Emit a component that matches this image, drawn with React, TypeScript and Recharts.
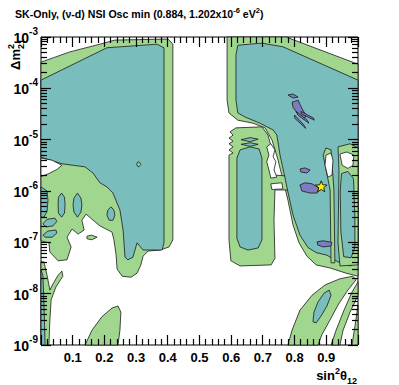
import React from 'react';
import { ScatterChart, Scatter, XAxis, YAxis, ReferenceArea } from 'recharts';

/* contour vertices: [sin^2 theta12, log10(dm2_21 / eV^2)] */
type Pt = [number, number];

const greenLeft: Pt[] = [
  [0, -3.49], [0.091, -3.29], [0.186, -3.14], [0.233, -3.06], [0.401, -3.04], [0.416, -3.14],
  [0.416, -6.95], [0.404, -7.09], [0.375, -7.15], [0.338, -7.17], [0.322, -7.27], [0.315, -7.44],
  [0.303, -7.6], [0.284, -7.68], [0.256, -7.66], [0.24, -7.52], [0.237, -7.25], [0.23, -6.95],
  [0.224, -6.8], [0.186, -6.68], [0.161, -6.55], [0.142, -6.45], [0.129, -6.57], [0.136, -6.76],
  [0.117, -6.84], [0.098, -6.74], [0.082, -6.9], [0.095, -7.09], [0.082, -7.34], [0.054, -7.36],
  [0.028, -7.19], [0.025, -7.01], [0, -6.97],
];
const tealLeft: Pt[] = [
  [0, -3.84], [0.208, -3.21], [0.366, -3.14], [0.388, -3.21], [0.388, -7.01], [0.382, -7.15],
  [0.322, -7.15], [0.303, -7.01], [0.29, -7.29], [0.274, -7.34], [0.265, -7.29], [0.259, -6.76],
  [0.249, -6.37], [0.227, -6.04], [0.208, -5.92], [0.186, -5.84], [0.164, -5.65], [0.139, -5.53],
  [0.066, -5.47], [0, -5.34],
];
const whiteWedge: Pt[] = [[0, -5.36], [0.035, -5.4], [0.066, -5.5], [0.05, -5.58], [0.025, -5.66], [0, -5.72]];
const tealLobeA: Pt[] = [[0, -5.92], [0.019, -6.0], [0.022, -6.18], [0.019, -6.4], [0.009, -6.51], [0, -6.51]];
const tealLobeB: Pt[] = [[0.065, -6.04], [0.074, -6.12], [0.076, -6.27], [0.074, -6.43], [0.065, -6.51], [0.055, -6.43], [0.054, -6.27], [0.055, -6.12]];
const tealLobeC: Pt[] = [[0.115, -6.04], [0.126, -6.14], [0.129, -6.27], [0.126, -6.41], [0.115, -6.51], [0.104, -6.41], [0.101, -6.27], [0.104, -6.14]];
const tealLobeD: Pt[] = [[0.006, -6.64], [0.019, -6.55], [0.044, -6.53], [0.05, -6.59], [0.038, -6.68], [0.016, -6.7]];
const tealLobeE: Pt[] = [[0.006, -6.86], [0.022, -6.78], [0.047, -6.76], [0.05, -6.82], [0.035, -6.9], [0.013, -6.9]];
const tealLobeF: Pt[] = [[0.221, -6.31], [0.23, -6.37], [0.233, -6.47], [0.227, -6.57], [0.215, -6.57], [0.208, -6.47], [0.211, -6.37]];
const greenIsland: Pt[] = [[0.145, -6.88], [0.16, -6.86], [0.177, -6.9], [0.16, -6.95], [0.145, -6.93]];
const greenDot: Pt[] = [[0.303, -5.45], [0.309, -5.43], [0.315, -5.48], [0.309, -5.53], [0.303, -5.51]];
const greenStrip: Pt[] = [
  [0, -7.38], [0.009, -7.38], [0.019, -7.64], [0.028, -7.93], [0.038, -7.81], [0.054, -7.64],
  [0.066, -7.56], [0.069, -7.66], [0.047, -7.87], [0.032, -8.12], [0.028, -8.51], [0.025, -9], [0, -9],
];
const tealStrip: Pt[] = [[0, -7.54], [0.006, -7.64], [0.009, -8.12], [0.013, -9], [0, -9]];
const greenBlob: Pt[] = [[0.139, -9], [0.161, -8.71], [0.192, -8.45], [0.224, -8.28], [0.243, -8.24], [0.252, -8.36], [0.249, -8.71], [0.243, -9]];

const greenRight: Pt[] = [
  [0.587, -3], [0.773, -3], [1, -3.53], [1, -7.66], [0.962, -7.6], [0.912, -7.5], [0.868, -7.44],
  [0.839, -7.27], [0.814, -7.01], [0.795, -6.66], [0.779, -6.18], [0.767, -5.88], [0.748, -5.4],
  [0.729, -5.01], [0.707, -4.77], [0.669, -4.68], [0.621, -4.62], [0.593, -4.48], [0.587, -4.23],
];
const greenColumn: Pt[] = [
  [0.615, -4.77], [0.697, -4.75], [0.716, -4.91], [0.729, -5.2], [0.735, -5.69], [0.785, -5.71],
  [0.792, -5.98], [0.738, -5.98], [0.735, -6.57], [0.738, -7.31], [0.726, -7.44], [0.628, -7.46],
  [0.599, -7.36], [0.593, -6.95], [0.593, -5.4], [0.593, -5.3], [0.606, -5.26], [0.593, -5.2],
  [0.606, -5.14], [0.593, -5.08], [0.606, -5.03], [0.593, -4.97], [0.606, -4.91], [0.596, -4.85],
];
const tealRight: Pt[] = [
  [0.621, -3.16], [0.697, -3.12], [0.763, -3.19], [1, -3.84], [1, -7.38], [0.975, -7.46],
  [0.937, -7.38], [0.902, -7.25], [0.868, -7.2], [0.842, -7.1], [0.817, -6.86], [0.795, -6.47],
  [0.779, -6.02], [0.763, -5.55], [0.754, -5.3], [0.744, -4.91], [0.732, -4.81], [0.691, -4.68],
  [0.644, -4.56], [0.621, -4.48], [0.615, -4.23], [0.615, -3.35],
];
const tealColumn: Pt[] = [
  [0.628, -5.2], [0.659, -5.14], [0.688, -5.18], [0.697, -5.36], [0.697, -6.95], [0.685, -7.11],
  [0.653, -7.15], [0.628, -7.09], [0.618, -6.92], [0.618, -5.36],
];
const tealBarA: Pt[] = [[0.631, -5.0], [0.66, -4.96], [0.685, -4.99], [0.66, -5.04]];
const tealBarB: Pt[] = [[0.631, -5.09], [0.66, -5.06], [0.685, -5.09], [0.66, -5.13]];
const whiteComb: Pt[] = [
  [0.712, -5.14], [0.725, -5.08], [0.738, -5.2], [0.732, -5.33], [0.741, -5.43], [0.735, -5.59],
  [0.744, -5.73], [0.725, -5.75], [0.719, -5.59], [0.712, -5.43], [0.719, -5.3],
];
const whiteSlot: Pt[] = [[0.725, -5.86], [0.76, -5.84], [0.763, -5.96], [0.728, -5.97]];
const greenLaneA: Pt[] = [[0.899, -5.16], [0.915, -5.2], [0.924, -5.98], [0.927, -7.4], [0.915, -7.4], [0.912, -5.98], [0.89, -5.3]];
const greenLaneB: Pt[] = [[0.937, -5.14], [0.975, -5.08], [1, -5.16], [1, -7.44], [0.943, -7.46], [0.937, -7.0], [0.94, -5.6]];
const tealLaneB: Pt[] = [[0.948, -5.66], [0.968, -5.62], [0.986, -5.76], [0.99, -6.5], [0.99, -7.1], [0.978, -7.3], [0.955, -7.28], [0.946, -6.8], [0.944, -6.0]];
const whiteHole1: Pt[] = [[0.899, -5.3], [0.915, -5.26], [0.921, -5.4], [0.918, -5.69], [0.905, -5.73], [0.896, -5.5]];
const whiteHole2: Pt[] = [[0.943, -5.28], [0.965, -5.24], [0.987, -5.3], [0.984, -5.5], [0.968, -5.56], [0.95, -5.5]];

const purpleBest: Pt[] = [[0.817, -5.88], [0.833, -5.84], [0.855, -5.86], [0.877, -5.94], [0.871, -6.04], [0.849, -6.04], [0.823, -6.0]];
const purpleMid: Pt[] = [[0.817, -5.57], [0.833, -5.55], [0.849, -5.59], [0.839, -5.65], [0.82, -5.63]];
const purpleTop: Pt[] = [[0.779, -4.13], [0.795, -4.11], [0.811, -4.17], [0.795, -4.19]];
const purpleFeather: Pt[] = [[0.792, -4.27], [0.811, -4.23], [0.823, -4.39], [0.836, -4.53], [0.83, -4.6], [0.808, -4.48], [0.795, -4.37]];
const purpleStreak1: Pt[] = [[0.805, -4.45], [0.84, -4.62], [0.845, -4.68], [0.81, -4.52]];
const purpleStreak2: Pt[] = [[0.8, -4.52], [0.83, -4.72], [0.835, -4.78], [0.8, -4.58]];
const purpleStreak3: Pt[] = [[0.82, -4.45], [0.86, -4.58], [0.862, -4.62], [0.822, -4.5]];
const purpleLow: Pt[] = [[0.871, -6.99], [0.89, -6.97], [0.918, -7.0], [0.915, -7.07], [0.89, -7.09], [0.873, -7.05]];

const greenBand1: Pt[] = [
  [0.779, -9], [0.792, -8.71], [0.817, -8.32], [0.855, -8.03], [0.896, -7.83], [0.943, -7.71],
  [0.984, -7.66], [0.994, -7.73], [0.968, -7.93], [0.937, -8.22], [0.912, -8.51], [0.886, -8.8], [0.874, -9],
];
const tealBand1: Pt[] = [[0.858, -8.55], [0.861, -8.36], [0.874, -8.16], [0.893, -7.99], [0.909, -7.93], [0.915, -8.03], [0.902, -8.24], [0.883, -8.44], [0.868, -8.57]];
const greenBand2: Pt[] = [[0.915, -9], [0.931, -8.71], [0.956, -8.32], [0.981, -7.97], [1, -7.77], [1, -8.03], [0.975, -8.36], [0.953, -8.71], [0.943, -9]];
const greenBand3: Pt[] = [[0.981, -9], [0.991, -8.61], [1, -8.22], [1, -9]];

const bestFit = [{ x: 0.884, y: Math.log10(1.202e-6) }];

const xLabels = [0.1, 0.2, 0.3, 0.4, 0.5, 0.6, 0.7, 0.8, 0.9];
const xMajor = [0, 0.1, 0.2, 0.3, 0.4, 0.5, 0.6, 0.7, 0.8, 0.9, 1];
const xMinorSteps = [0.02, 0.04, 0.06, 0.08];
const yDecades = [-9, -8, -7, -6, -5, -4, -3];
const yMinorMult = [2, 3, 4, 5, 6, 7, 8, 9];

const GREEN = '#a1d68f';
const TEAL = '#7abdbd';
const PURPLE = '#7e7bbf';
const WHITE = '#ffffff';
const FONT = '"Liberation Sans", Arial, Helvetica, sans-serif';

// chart box
const W = 399, H = 385;
const M_TOP = 37, M_RIGHT = 41, X_AXIS_H = 40, Y_AXIS_W = 41;
const PLOT_TOP = M_TOP, PLOT_BOTTOM = H - X_AXIS_H, PLOT_LEFT = Y_AXIS_W, PLOT_RIGHT = W - M_RIGHT;

const layers: { pts: Pt[]; fill: string }[] = [
  { pts: greenLeft, fill: GREEN },
  { pts: tealLeft, fill: TEAL },
  { pts: whiteWedge, fill: WHITE },
  { pts: tealLobeA, fill: TEAL },
  { pts: tealLobeB, fill: TEAL },
  { pts: tealLobeC, fill: TEAL },
  { pts: tealLobeD, fill: TEAL },
  { pts: tealLobeE, fill: TEAL },
  { pts: tealLobeF, fill: TEAL },
  { pts: greenIsland, fill: GREEN },
  { pts: greenDot, fill: GREEN },
  { pts: greenStrip, fill: GREEN },
  { pts: tealStrip, fill: TEAL },
  { pts: greenBlob, fill: GREEN },
  { pts: greenRight, fill: GREEN },
  { pts: greenColumn, fill: GREEN },
  { pts: tealRight, fill: TEAL },
  { pts: tealColumn, fill: TEAL },
  { pts: tealBarA, fill: TEAL },
  { pts: tealBarB, fill: TEAL },
  { pts: whiteComb, fill: WHITE },
  { pts: whiteSlot, fill: WHITE },
  { pts: greenLaneA, fill: GREEN },
  { pts: greenLaneB, fill: GREEN },
  { pts: tealLaneB, fill: TEAL },
  { pts: whiteHole1, fill: WHITE },
  { pts: whiteHole2, fill: WHITE },
  { pts: purpleBest, fill: PURPLE },
  { pts: purpleMid, fill: PURPLE },
  { pts: purpleTop, fill: PURPLE },
  { pts: purpleFeather, fill: PURPLE },
  { pts: purpleStreak1, fill: PURPLE },
  { pts: purpleStreak2, fill: PURPLE },
  { pts: purpleStreak3, fill: PURPLE },
  { pts: purpleLow, fill: PURPLE },
  { pts: greenBand1, fill: GREEN },
  { pts: tealBand1, fill: TEAL },
  { pts: greenBand2, fill: GREEN },
  { pts: greenBand3, fill: GREEN },
];

const toData = (pts: Pt[]) => pts.map(([x, y]) => ({ x, y }));
const noDot = () => <g />;

const polygon = (fill: string) => (p: any) => {
  const pts = (p.points || []) as { x: number; y: number }[];
  const d = 'M' + pts.map((q) => `${q.x},${q.y}`).join('L') + 'Z';
  return <path d={d} fill={fill} stroke="#1a1a1a" strokeWidth={0.8} strokeLinejoin="round" />;
};

const Star = (p: any) => {
  const { cx, cy } = p;
  const r1 = 6, r2 = 2.6;
  const pts: string[] = [];
  for (let i = 0; i < 10; i++) {
    const r = i % 2 === 0 ? r1 : r2;
    const a = -Math.PI / 2 + (i * Math.PI) / 5;
    pts.push(`${cx + r * Math.cos(a)},${cy + r * Math.sin(a)}`);
  }
  return <polygon points={pts.join(' ')} fill="#ffee00" stroke="#000" strokeWidth={0.8} />;
};

const near = (a: number, b: number) => Math.abs(a - b) < 1e-6;
const isXLabel = (v: number) => xLabels.some((l) => near(l, v));
const isXMajor = (v: number) => xMajor.some((l) => near(l, v));
const isYMajor = (v: number) => yDecades.some((l) => near(l, v));
const crisp = (c: number) => Math.round(c - 0.5) + 0.5;

// ROOT-style ticks: drawn inward on the bottom and mirrored on the top
const XTick = (p: any) => {
  const { x, payload } = p;
  const v = payload.value as number;
  const len = isXMajor(v) ? 10 : 6;
  const cx = crisp(x);
  return (
    <g>
      <line x1={cx} x2={cx} y1={PLOT_BOTTOM} y2={PLOT_BOTTOM - len} stroke="#000" strokeWidth={1.2} />
      <line x1={cx} x2={cx} y1={PLOT_TOP} y2={PLOT_TOP + len} stroke="#000" strokeWidth={1.2} />
      {isXLabel(v) && (
        <text x={x} y={PLOT_BOTTOM + 17} textAnchor="middle" fontFamily={FONT} fontWeight="bold" fontSize={13} fill="#000">
          {v.toFixed(1)}
        </text>
      )}
    </g>
  );
};

// same for the left axis, mirrored on the right
const YTick = (p: any) => {
  const { y, payload } = p;
  const v = payload.value as number;
  const major = isYMajor(v);
  const len = major ? 10 : 6;
  const cy = crisp(y);
  return (
    <g>
      <line x1={PLOT_LEFT} x2={PLOT_LEFT + len} y1={cy} y2={cy} stroke="#000" strokeWidth={1.2} />
      <line x1={PLOT_RIGHT} x2={PLOT_RIGHT - len} y1={cy} y2={cy} stroke="#000" strokeWidth={1.2} />
      {major && (
        <text x={PLOT_LEFT - 3} y={y + 6} textAnchor="end" fontFamily={FONT} fontWeight="bold" fontSize={14} fill="#000">
          10<tspan dy={-8} fontSize={10}>{Math.round(v)}</tspan>
        </text>
      )}
    </g>
  );
};

export default function App() {
  const xTickVals: number[] = [];
  xMajor.forEach((m, i) => {
    xTickVals.push(m);
    if (i < xMajor.length - 1) xMinorSteps.forEach((s) => xTickVals.push(m + s));
  });
  const yTickVals: number[] = [];
  yDecades.forEach((d, i) => {
    yTickVals.push(d);
    if (i < yDecades.length - 1) yMinorMult.forEach((k) => yTickVals.push(d + Math.log10(k)));
  });

  return (
    <div style={{ position: 'absolute', left: 0, top: 0, width: W, height: H, background: '#fff' }}>
      <ScatterChart width={W} height={H} margin={{ top: M_TOP, right: M_RIGHT, bottom: 0, left: 0 }}>
        <XAxis
          type="number" dataKey="x" domain={[0, 1]} ticks={xTickVals} interval={0}
          height={X_AXIS_H} tickLine={false} axisLine={false} tick={<XTick />}
        />
        <YAxis
          type="number" dataKey="y" domain={[-9, -3]} ticks={yTickVals} interval={0}
          width={Y_AXIS_W} tickLine={false} axisLine={false} tick={<YTick />}
        />
        {layers.map((l, i) => (
          <Scatter
            key={i} data={toData(l.pts)} shape={noDot} line={polygon(l.fill)}
            isAnimationActive={false} legendType="none"
          />
        ))}
        <Scatter data={bestFit} shape={<Star />} isAnimationActive={false} legendType="none" />
        <ReferenceArea x1={0} x2={1} y1={-9} y2={-3} fill="none" stroke="#000" strokeWidth={1} />
      </ScatterChart>
      <svg width={W} height={H} style={{ position: 'absolute', left: 0, top: 0, pointerEvents: 'none' }}>
        <text x={15} y={18} fontFamily={FONT} fontWeight="bold" fontSize={10.6} fill="#000">
          SK-Only, (ν-d) NSI Osc min (0.884, 1.202x10<tspan dy={-5} fontSize={7.5}>-6</tspan>
          <tspan dy={5}> eV</tspan><tspan dy={-5} fontSize={7.5}>2</tspan><tspan dy={5}>)</tspan>
        </text>
        <text x={357} y={380} textAnchor="end" fontFamily={FONT} fontWeight="bold" fontSize={13} fill="#000">
          sin<tspan dy={-6} fontSize={9}>2</tspan><tspan dy={6}>θ</tspan><tspan dy={4} fontSize={9}>12</tspan>
        </text>
        <text transform="translate(20,39) rotate(-90)" textAnchor="end" fontFamily={FONT} fontWeight="bold" fontSize={13} fill="#000">
          Δm<tspan dy={-6} fontSize={9}>2</tspan><tspan dx={-5} dy={10} fontSize={9}>21</tspan>
        </text>
      </svg>
    </div>
  );
}
